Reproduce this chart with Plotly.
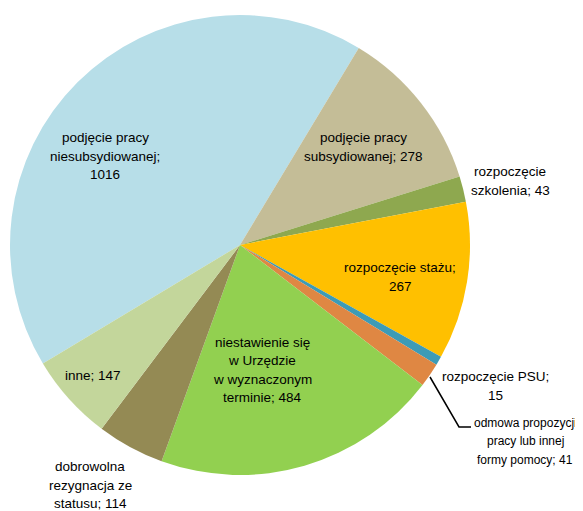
import plotly.graph_objects as go

W, H = 583, 511
OFF = 8  # default page body margin of the written html

categories = [
    "podjęcie pracy<br>niesubsydiowanej;<br>1016",
    "podjęcie pracy<br>subsydiowanej; 278",
    "rozpoczęcie<br>szkolenia; 43",
    "rozpoczęcie stażu;<br>267",
    "rozpoczęcie PSU;<br>15",
    "odmowa propozycji<br>pracy lub innej<br>formy pomocy; 41",
    "niestawienie się<br>w Urzędzie<br>w wyznaczonym<br>terminie; 484",
    "dobrowolna<br>rezygnacja ze<br>statusu; 114",
    "inne; 147",
]
values = [1016, 278, 43, 267, 15, 41, 484, 114, 147]

colors = ["#B7DEE8", "#C4BD97", "#8EA84F", "#FFC000", "#3D9BB6",
          "#DF8743", "#92D050", "#948A54", "#C3D69B"]

# label block centres in reference pixels (x, y from top) and font sizes
label_pos = [
    (105, 156),
    (363, 147),
    (510, 181),
    (400, 277),
    (495, 386),
    (525, 441),
    (262, 370),
    (90, 485),
    (93, 375),
]
label_size = [13.5, 13.5, 13.5, 13.5, 13.5, 12, 13.5, 13.5, 13.5]
LINE = 18.5

cx, cy, r = 240, 245, 230


def px(x):
    return (x - OFF) / W


def py(y):
    return 1 - (y - OFF) / H


fig = go.Figure(go.Pie(
    labels=[c.replace("<br>", " ") for c in categories],
    values=values,
    marker=dict(colors=colors, line=dict(width=0)),
    sort=False,
    direction="clockwise",
    rotation=239,
    textinfo="none",
    hoverinfo="label+value",
    domain=dict(x=[px(cx - r), px(cx + r)], y=[py(cy + r), py(cy - r)]),
    showlegend=False,
))

for text, (lx, ly), fs in zip(categories, label_pos, label_size):
    font = dict(family="Liberation Sans, Arial, sans-serif", size=fs, color="#000000")
    lines = text.split("<br>")
    n = len(lines)
    for i, line in enumerate(lines):
        yy = ly + (i - (n - 1) / 2) * LINE
        fig.add_annotation(
            x=px(lx), y=py(yy), xref="paper", yref="paper",
            text=line, showarrow=False, xanchor="center", yanchor="middle",
            font=font,
        )

# leader line for the small "odmowa" slice
pts = [(430, 377), (459, 427), (471, 427)]
path = "M " + " L ".join(f"{px(x)},{py(y)}" for x, y in pts)
fig.add_shape(type="path", path=path, xref="paper", yref="paper",
              line=dict(color="#000000", width=1.5))

fig.update_layout(
    width=W, height=H,
    margin=dict(l=0, r=0, t=0, b=0),
    paper_bgcolor="white", plot_bgcolor="white",
)

fig.write_html("out.html")
